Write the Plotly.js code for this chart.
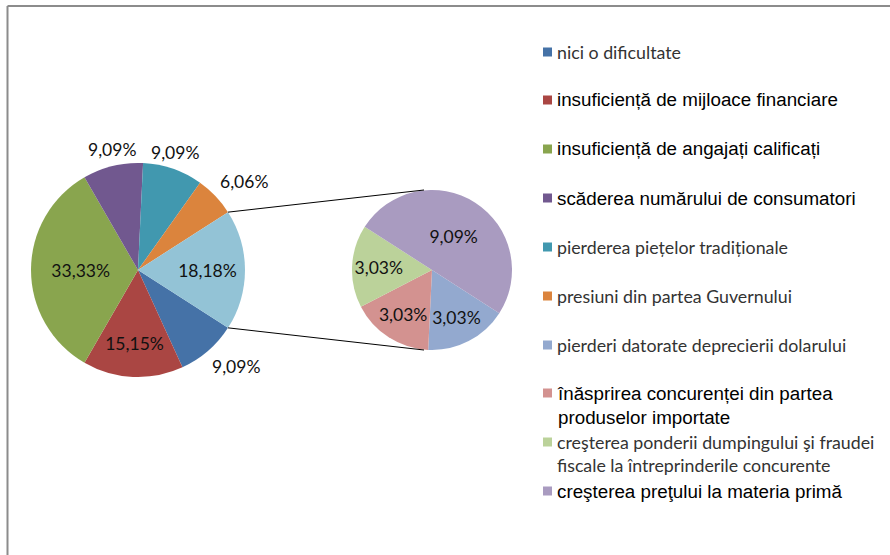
<!DOCTYPE html>
<html>
<head>
<meta charset="utf-8">
<script src="https://cdn.plot.ly/plotly-3.0.1.min.js"></script>
<style>html,body{margin:0;padding:0;background:#fff;}</style>
</head>
<body>
<div id="chart" style="width:890px;height:555px;"></div>
<script>
// ---- data ----
var mainLabels = [
  "nici o dificultate",
  "insuficiență de mijloace financiare",
  "insuficiență de angajați calificați",
  "scăderea numărului de consumatori",
  "pierderea piețelor tradiționale",
  "presiuni din partea Guvernului"
];
var mainValues = [9.09, 15.15, 33.33, 9.09, 9.09, 6.06];

var subLabels = [
  "pierderi datorate deprecierii dolarului",
  "înăsprirea concurenței din partea produselor importate",
  "creşterea ponderii dumpingului şi fraudei fiscale la întreprinderile concurente",
  "creşterea preţului la materia primă"
];
var subValues = [3.03, 3.03, 3.03, 9.09];

// ---- styles ----
var mainColors = ["#4572A7", "#AA4643", "#89A54E", "#71588F", "#4198AF", "#DB843D", "#93C3D6"];
var subColors = ["#93A9CF", "#D39290", "#BBD29A", "#A99BC0"];
var mainOutside = [true, false, false, true, true, true, false];

// legend text styling: A = light (Calibri-like), B = dark (Arial-like)
var legendStyle = ["A", "B", "B", "B", "A", "A", "A", "B", "A", "B"];
var legendLines = [
  ["nici o dificultate"],
  ["insuficiență de mijloace financiare"],
  ["insuficiență de angajați calificați"],
  ["scăderea numărului de consumatori"],
  ["pierderea piețelor tradiționale"],
  ["presiuni din partea Guvernului"],
  ["pierderi datorate deprecierii dolarului"],
  ["înăsprirea concurenței din partea", "produselor importate"],
  ["creşterea ponderii dumpingului şi fraudei", "fiscale la întreprinderile concurente"],
  ["creşterea preţului la materia primă"]
];
var legendY = [52, 100, 149, 198, 247, 296, 345, 393, 442, 491]; // px, first-line centre

var W = 890, H = 555;
function fmt(v) { return v.toFixed(2).replace(".", ",") + "%"; }

var otherValue = subValues.reduce(function (a, b) { return a + b; }, 0);
var allMainValues = mainValues.concat([otherValue]);
var total = allMainValues.reduce(function (a, b) { return a + b; }, 0);
var rotation = 90 + 180 * otherValue / total;

// geometry (pixels)
var c1 = {x: 138, y: 270, r: 107};
var c2 = {x: 432, y: 270, r: 80};
function dom(c) {
  return {
    x: [(c.x - c.r) / W, (c.x + c.r) / W],
    y: [1 - (c.y + c.r) / H, 1 - (c.y - c.r) / H]
  };
}
function px(x) { return x / W; }
function py(y) { return 1 - y / H; }

var textFont = {family: "Lato, 'Open Sans', sans-serif", size: 17.5, color: "#111"};

var mainText = allMainValues.map(function (v, i) { return mainOutside[i] ? "" : fmt(v); });

var traceMain = {
  type: "pie",
  labels: mainLabels.concat(["Other"]),
  values: allMainValues,
  text: mainText,
  textinfo: "text",
  textposition: "inside",
  insidetextorientation: "horizontal",
  sort: false,
  direction: "clockwise",
  rotation: rotation,
  marker: {colors: mainColors, line: {width: 0}},
  textfont: textFont,
  insidetextfont: textFont,
  domain: dom(c1),
  showlegend: false,
  hoverinfo: "label+text"
};

var traceSub = {
  type: "pie",
  labels: subLabels,
  values: subValues,
  text: subValues.map(fmt),
  textinfo: "text",
  textposition: "inside",
  insidetextorientation: "horizontal",
  sort: false,
  direction: "clockwise",
  rotation: rotation,
  marker: {colors: subColors, line: {width: 0}},
  textfont: textFont,
  insidetextfont: textFont,
  domain: dom(c2),
  showlegend: false,
  hoverinfo: "label+text"
};

function edge(c, deg, rr) {
  var t = deg * Math.PI / 180;
  return {x: c.x + rr * Math.sin(t), y: c.y - rr * Math.cos(t)};
}

var annotations = [];
var shapes = [];

// outside labels for the main pie, positioned at each slice's mid-angle
var cum = 0;
allMainValues.forEach(function (v, i) {
  var mid = rotation + 360 * (cum + v / 2) / total;
  cum += v;
  if (!mainOutside[i]) return;
  var t = mid * Math.PI / 180;
  var s = Math.sin(t), c = Math.cos(t);
  var p = edge(c1, mid, c1.r + 5);
  annotations.push({
    xref: "paper", yref: "paper",
    x: px(p.x), y: py(p.y),
    xanchor: Math.abs(s) < 0.4 ? "center" : (s > 0 ? "left" : "right"),
    yanchor: c > 0 ? "bottom" : "top",
    showarrow: false, borderpad: 0,
    text: fmt(v),
    font: textFont
  });
});

// connector lines from the edge of the "Other" slice to the secondary pie
var a0 = rotation - 360 * otherValue / total;
var a1 = rotation;
var pTop = edge(c1, a0, c1.r), pBot = edge(c1, a1, c1.r);
shapes.push(
  {type: "line", xref: "paper", yref: "paper", x0: px(pTop.x), y0: py(pTop.y), x1: px(c2.x - 8), y1: py(c2.y - c2.r), line: {color: "#000", width: 1}},
  {type: "line", xref: "paper", yref: "paper", x0: px(pBot.x), y0: py(pBot.y), x1: px(c2.x - 8), y1: py(c2.y + c2.r), line: {color: "#000", width: 1}},
  // chart frame (top and left edges visible)
  {type: "line", xref: "paper", yref: "paper", x0: px(7.5), y0: 0, x1: px(7.5), y1: py(6), line: {color: "#8c8c8c", width: 2}},
  {type: "line", xref: "paper", yref: "paper", x0: px(7.5), y0: py(6), x1: 1, y1: py(6), line: {color: "#8c8c8c", width: 2}}
);

// legend
var legendColors = mainColors.slice(0, 6).concat(subColors);
var fontA = {family: "Lato, 'Open Sans', sans-serif", size: 17.8, color: "#333"};
var fontB = {family: "'Liberation Sans', Arial, sans-serif", size: 18.8, color: "#000"};
legendLines.forEach(function (lines, i) {
  var f = legendStyle[i] === "A" ? fontA : fontB;
  var gap = 1.3 * f.size;
  var yc = legendY[i] + (lines.length - 1) * gap / 2;
  annotations.push({
    xref: "paper", yref: "paper",
    x: px(556), y: py(yc),
    xanchor: "left", yanchor: "middle", align: "left",
    showarrow: false, borderpad: 0,
    text: lines.join("<br>"),
    font: f
  });
  shapes.push({
    type: "rect", xref: "paper", yref: "paper",
    x0: px(543), x1: px(552), y0: py(legendY[i] - 4.5), y1: py(legendY[i] + 4.5),
    fillcolor: legendColors[i], line: {width: 0}
  });
});

var layout = {
  width: W, height: H,
  margin: {l: 0, r: 0, t: 0, b: 0},
  paper_bgcolor: "#fff",
  showlegend: false,
  shapes: shapes,
  annotations: annotations
};

Plotly.newPlot("chart", [traceMain, traceSub], layout, {displayModeBar: false, staticPlot: true});
</script>
</body>
</html>
